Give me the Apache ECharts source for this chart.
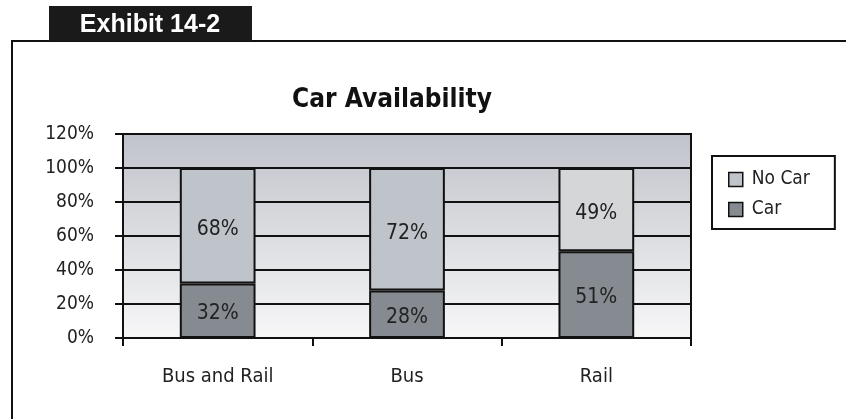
<!DOCTYPE html>
<html>
<head>
<meta charset="utf-8">
<script src="https://cdn.jsdelivr.net/npm/echarts@6/dist/echarts.min.js"></script>
<style>
  html, body { margin: 0; padding: 0; background: #ffffff; }
  #chart { width: 846px; height: 419px; }
</style>
</head>
<body>
<div id="chart"></div>
<script>
// Share of riders with / without a car, by transit mode
const categories = ['Bus and Rail', 'Bus', 'Rail'];
const carValues = [32, 28, 51];
const noCarValues = [68, 72, 49];
const yTicks = [0, 20, 40, 60, 80, 100, 120];

const FONT = '"DejaVu Sans Condensed", "DejaVu Sans", Verdana, sans-serif';
const chart = echarts.init(document.getElementById('chart'), null, { renderer: 'canvas' });

const noCarColors = ['#bfc3ca', '#bfc3ca', '#d5d6d8'];

const option = {
  animation: false,
  backgroundColor: '#ffffff',
  title: {
    text: 'Car Availability',
    left: 387,
    textAlign: 'center',
    top: 82,
    textStyle: { fontFamily: FONT, fontWeight: 'bold', fontSize: 26, color: '#111' }
  },
  legend: {
    orient: 'vertical',
    left: 712,
    top: 156,
    padding: [14, 25, 10, 16],
    itemGap: 11,
    itemWidth: 14,
    itemHeight: 14,
    borderColor: '#111',
    borderWidth: 2,
    icon: 'rect',
    data: ['No Car', 'Car'],
    textStyle: { fontFamily: FONT, fontSize: 19, color: '#222', padding: [0, 0, 0, 4] },
    itemStyle: { borderColor: '#111', borderWidth: 1.5 }
  },
  grid: {
    left: 123, right: 155, top: 134, bottom: 81,
    show: true,
    borderColor: '#111',
    borderWidth: 2,
    backgroundColor: new echarts.graphic.LinearGradient(0, 0, 0, 1, [
      { offset: 0, color: '#c0c3ca' },
      { offset: 1, color: '#f7f7f8' }
    ])
  },
  xAxis: {
    type: 'category',
    data: categories,
    axisLine: { show: true, lineStyle: { color: '#111', width: 2 } },
    axisTick: { show: true, length: 8, lineStyle: { color: '#111', width: 2 } },
    axisLabel: { margin: 29, fontFamily: FONT, fontSize: 20, color: '#222' },
    splitLine: { show: false }
  },
  yAxis: {
    type: 'value',
    min: yTicks[0],
    max: yTicks[yTicks.length - 1],
    interval: 20,
    axisLine: { show: true, lineStyle: { color: '#111', width: 2 } },
    axisTick: { show: true, length: 8, lineStyle: { color: '#111', width: 2 } },
    axisLabel: { margin: 29, fontFamily: FONT, fontSize: 19, color: '#222', formatter: '{value}%' },
    splitLine: { show: true, lineStyle: { color: '#111', width: 2 } }
  },
  series: [
    {
      name: 'Car',
      type: 'bar',
      stack: 'total',
      barWidth: '40%',
      data: carValues,
      itemStyle: { color: '#868b91', borderColor: '#111', borderWidth: 2 },
      label: {
        show: true, position: 'inside', formatter: '{c}%', offset: [0, 3],
        fontFamily: FONT, fontSize: 21, color: '#222'
      }
    },
    {
      name: 'No Car',
      type: 'bar',
      stack: 'total',
      barWidth: '40%',
      data: noCarValues.map((v, i) => ({ value: v, itemStyle: { color: noCarColors[i] } })),
      itemStyle: { color: '#bfc3ca', borderColor: '#111', borderWidth: 2 },
      label: {
        show: true, position: 'inside', formatter: '{c}%', offset: [0, 4],
        fontFamily: FONT, fontSize: 21, color: '#222'
      }
    }
  ],
  graphic: [
    // exhibit frame
    { type: 'polyline', shape: { points: [[12, 419], [12, 41], [846, 41]] },
      style: { stroke: '#111', lineWidth: 2, fill: null }, silent: true },
    // exhibit tab
    { type: 'rect', shape: { x: 49, y: 6, width: 203, height: 35 },
      style: { fill: '#1a1a1a' }, silent: true },
    { type: 'text', x: 150, y: 25,
      style: { text: 'Exhibit 14-2', fill: '#ffffff', font: 'bold 25px "Liberation Sans", Arial, sans-serif',
               textAlign: 'center', textVerticalAlign: 'middle' }, silent: true }
  ]
};

chart.setOption(option);
</script>
</body>
</html>
